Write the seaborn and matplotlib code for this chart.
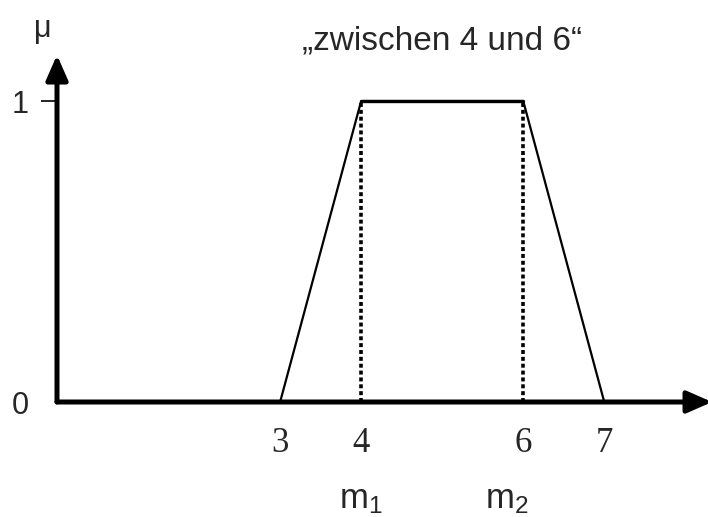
import matplotlib
matplotlib.use("Agg")
import matplotlib.pyplot as plt
import seaborn as sns
import pandas as pd

# --- Daten: Trapez "zwischen 4 und 6" ---
x_werte = [0, 3, 4, 6, 7]
mu_werte = [0, 0, 1, 1, 0]
kern_grenzen = [4, 6]          # m1, m2
x_ticks = [3, 4, 6, 7]
x_tick_labels = ["3", "4", "6", "7"]
y_ticks = [0, 1]
y_tick_labels = ["0", "1"]

df = pd.DataFrame({"x": x_werte, "mu": mu_werte})

sns.set_theme(style="white")
plt.rcParams["font.family"] = ["Liberation Sans", "DejaVu Sans"]

fig = plt.figure(figsize=(7.08, 5.17), dpi=100)
ax = fig.add_axes([57 / 708, 115 / 517, 651 / 708, 347 / 517])

x_min, x_max = 0.247, 8.28
y_max = 1.153

# Trapez
sns.lineplot(data=df, x="x", y="mu", ax=ax, color="black", lw=1.6,
             estimator=None, sort=False)
sns.lineplot(x=kern_grenzen, y=[1, 1], ax=ax, color="black", lw=2.4,
             estimator=None)
for m in kern_grenzen:
    ax.plot([m, m], [0, 1], color="black", lw=2.6, ls=(0, (1.1, 0.8)))

ax.set_xlim(x_min, x_max)
ax.set_ylim(0, y_max)
for s in ax.spines.values():
    s.set_visible(False)

# Achsen mit Pfeilen (x-Pfeil läuft leicht über den Rand hinaus)
pfeil = dict(arrowstyle="-|>,head_length=0.75,head_width=0.33", lw=3.6,
             color="black", shrinkA=0, shrinkB=0, mutation_scale=20)
ax.annotate("", xy=(x_max + 0.05, 0), xytext=(x_min, 0), arrowprops=pfeil,
            annotation_clip=False)
ax.annotate("", xy=(x_min, y_max), xytext=(x_min, 0), arrowprops=pfeil,
            annotation_clip=False)

ax.set_xticks(x_ticks)
ax.set_xticklabels(x_tick_labels, family="Liberation Serif", fontsize=25)
ax.tick_params(axis="x", length=0, pad=18)
ax.set_yticks(y_ticks)
ax.set_yticklabels(y_tick_labels, fontsize=22)
ax.tick_params(axis="y", left=True, length=11.5, width=1.2, pad=9,
               color="black")
ax.yaxis.get_major_ticks()[0].tick1line.set_visible(False)
ax.set_xlabel("")
ax.set_ylabel("")

ax.text(0.07, 1.24, "μ", fontsize=22, ha="center", va="center",
        clip_on=False)
ax.text(5.0, 1.20, "„zwischen 4 und 6“", fontsize=24, ha="center",
        va="center")
ax.text(4.0, -0.325, r"$\mathregular{m_1}$", fontsize=25, ha="center",
        va="center")
ax.text(5.8, -0.325, r"$\mathregular{m_2}$", fontsize=25, ha="center",
        va="center")

fig.savefig("out.png", dpi=100)
